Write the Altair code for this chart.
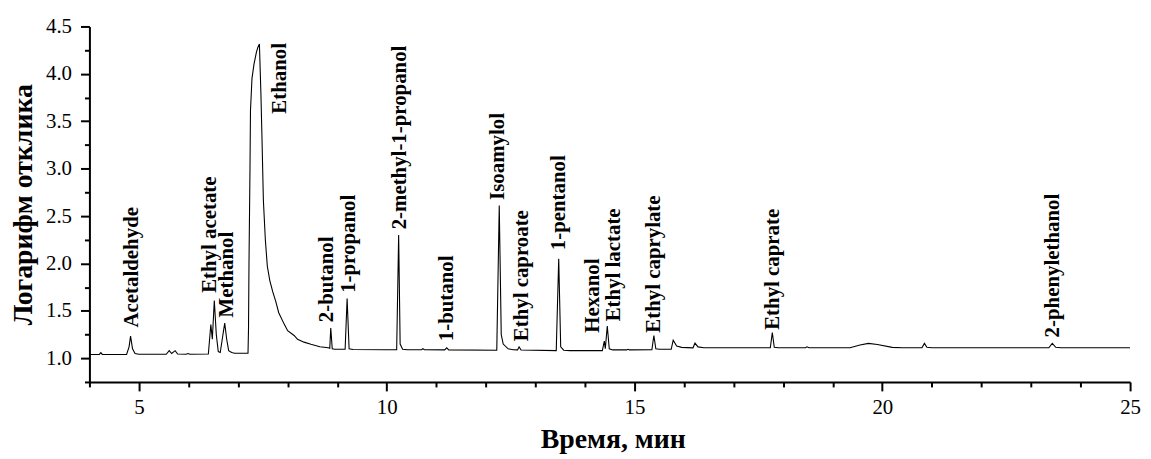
import altair as alt
import pandas as pd

FONT = "Liberation Serif"

# Chromatogram trace: retention time (min) and log response
time_min = [
    4.00, 4.20, 4.23, 4.26, 4.75, 4.80, 4.83, 4.87, 4.92, 5.00,
    5.55, 5.61, 5.66, 5.73, 5.78, 5.95, 5.99, 6.03,
    6.40, 6.45, 6.48, 6.52, 6.56, 6.60, 6.64, 6.68, 6.73, 6.77, 6.81, 6.87, 6.93, 7.20,
    7.21, 7.22, 7.24, 7.25, 7.28, 7.32, 7.37, 7.40, 7.43, 7.46, 7.48, 7.51, 7.55, 7.59,
    7.64, 7.70, 7.76, 7.82, 7.93, 8.00, 8.13, 8.20, 8.33, 8.47, 8.65, 8.82,
    8.85, 8.87, 8.90, 8.95,
    9.16, 9.20, 9.24, 9.32, 10.00,
    10.20, 10.24, 10.27, 10.32, 10.42,
    10.70, 10.73, 10.76,
    11.17, 11.21, 11.25,
    12.22, 12.27, 12.31, 12.35, 12.45, 12.55,
    12.64, 12.67, 12.71,
    13.42, 13.47, 13.51, 13.57, 13.70,
    14.35, 14.39, 14.41, 14.45, 14.49, 14.56,
    14.84, 14.87, 14.90,
    15.35, 15.39, 15.43, 15.50,
    15.74, 15.78, 15.85, 15.95, 16.18, 16.22, 16.28, 16.40,
    17.74, 17.78, 17.82, 17.90,
    18.45, 18.48, 18.52,
    19.35, 19.55, 19.72, 19.90, 20.20, 20.40,
    20.80, 20.85, 20.90, 21.00,
    23.36, 23.43, 23.50, 23.60,
    25.00,
]
log_resp = [
    1.040, 1.040, 1.060, 1.040, 1.040, 1.120, 1.234, 1.100, 1.050, 1.042,
    1.042, 1.080, 1.050, 1.080, 1.045, 1.042, 1.050, 1.042,
    1.045, 1.356, 1.200, 1.610, 1.250, 1.070, 1.060, 1.200, 1.370, 1.200, 1.080, 1.060, 1.052, 1.052,
    1.300, 2.000, 3.000, 3.610, 3.950, 4.100, 4.230, 4.280, 4.316, 3.800, 3.370, 2.670, 2.250, 1.970,
    1.820, 1.700, 1.600, 1.480, 1.360, 1.290, 1.240, 1.200, 1.170, 1.147, 1.122, 1.110,
    1.105, 1.320, 1.100, 1.095,
    1.095, 1.630, 1.100, 1.092, 1.090,
    1.090, 2.300, 1.150, 1.095, 1.090,
    1.090, 1.100, 1.090,
    1.088, 1.110, 1.088,
    1.085, 2.610, 1.250, 1.150, 1.100, 1.090,
    1.088, 1.120, 1.087,
    1.080, 2.050, 1.120, 1.085, 1.080,
    1.080, 1.180, 1.100, 1.340, 1.100, 1.088,
    1.088, 1.095, 1.088,
    1.090, 1.240, 1.100, 1.095,
    1.095, 1.190, 1.130, 1.115, 1.110, 1.160, 1.120, 1.110,
    1.110, 1.270, 1.115, 1.110,
    1.110, 1.120, 1.110,
    1.110, 1.140, 1.157, 1.145, 1.115, 1.110,
    1.110, 1.157, 1.115, 1.110,
    1.110, 1.157, 1.115, 1.110,
    1.110,
]

# Peak labels (rotated text): compound, x position, y position of the text start
names = [
    "Acetaldehyde", "Ethyl acetate", "Methanol", "Ethanol", "2-butanol",
    "1-propanol", "2-methyl-1-propanol", "1-butanol", "Isoamylol",
    "Ethyl caproate", "1-pentanol", "Hexanol", "Ethyl lactate",
    "Ethyl caprylate", "Ethyl caprate", "2-phenylethanol",
]
label_t = [4.86, 6.44, 6.78, 7.84, 8.80, 9.23, 10.27, 11.22, 12.25,
           12.73, 13.47, 14.17, 14.59, 15.39, 17.79, 23.45]
label_v = [1.325, 1.69, 1.43, 3.58, 1.38, 1.69, 2.36, 1.18, 2.67,
           1.18, 2.14, 1.27, 1.39, 1.27, 1.30, 1.22]

x_major_ticks = [5, 10, 15, 20, 25]
x_minor_ticks = [4, 6, 7, 8, 9, 11, 12, 13, 14, 16, 17, 18, 19, 21, 22, 23, 24]
y_major_ticks = [1.0, 1.5, 2.0, 2.5, 3.0, 3.5, 4.0, 4.5]
y_minor_ticks = [0.75, 1.25, 1.75, 2.25, 2.75, 3.25, 3.75, 4.25]

curve = pd.DataFrame({"t": time_min, "v": log_resp})
labels = pd.DataFrame({"name": names, "t": label_t, "v": label_v})

x_scale = alt.Scale(domain=[4, 25], nice=False, zero=False)
y_scale = alt.Scale(domain=[0.75, 4.5], nice=False, zero=False)

common = dict(tickWidth=2, tickColor="black", grid=False)

x_major_axis = alt.Axis(
    orient="bottom", values=x_major_ticks, tickSize=9, format="d",
    domainWidth=2, domainColor="black",
    labelFont=FONT, labelFontSize=21, labelColor="black", labelPadding=6,
    labelFlush=False, labelOverlap=False,
    title="Время, мин", titleFont=FONT, titleFontSize=28, titleFontWeight="bold",
    titleColor="black", titleX=527, titleY=66, titleBaseline="alphabetic",
    titleAlign="center", **common,
)
y_major_axis = alt.Axis(
    orient="left", values=y_major_ticks, tickSize=9, format=".1f",
    domainWidth=2, domainColor="black",
    labelFont=FONT, labelFontSize=21, labelColor="black", labelPadding=9,
    labelFlush=False, labelOverlap=False,
    title="Логарифм отклика", titleFont=FONT, titleFontSize=28, titleFontWeight="bold",
    titleColor="black", titleX=-58, titleY=179, titleBaseline="alphabetic",
    titleAlign="center", titleAngle=270, **common,
)
x_minor_axis = alt.Axis(
    orient="bottom", values=x_minor_ticks, tickSize=5, labels=False,
    domain=False, title=None, **common,
)
y_minor_axis = alt.Axis(
    orient="left", values=y_minor_ticks, tickSize=5, labels=False,
    domain=False, title=None, **common,
)

line = alt.Chart(curve).mark_line(color="black", strokeWidth=1.1, clip=True).encode(
    x=alt.X("t:Q", scale=x_scale, axis=x_major_axis),
    y=alt.Y("v:Q", scale=y_scale, axis=y_major_axis),
    order="t:Q",
)

text = alt.Chart(labels).mark_text(
    angle=270, align="left", baseline="middle", font=FONT, fontSize=21,
    fontWeight="bold", color="black",
).encode(
    x=alt.X("t:Q", scale=x_scale, axis=x_minor_axis),
    y=alt.Y("v:Q", scale=y_scale, axis=y_minor_axis),
    text="name:N",
)

chart = (
    alt.layer(line, text)
    .resolve_axis(x="independent", y="independent")
    .properties(
        width=1048, height=358,
        autosize=alt.AutoSizeParams(type="none"),
        padding={"left": 82, "top": 17, "right": 13, "bottom": 75},
        background="white",
    )
    .configure_view(stroke=None)
)

chart.save("out.html", embed_options={"renderer": "svg", "actions": False})
